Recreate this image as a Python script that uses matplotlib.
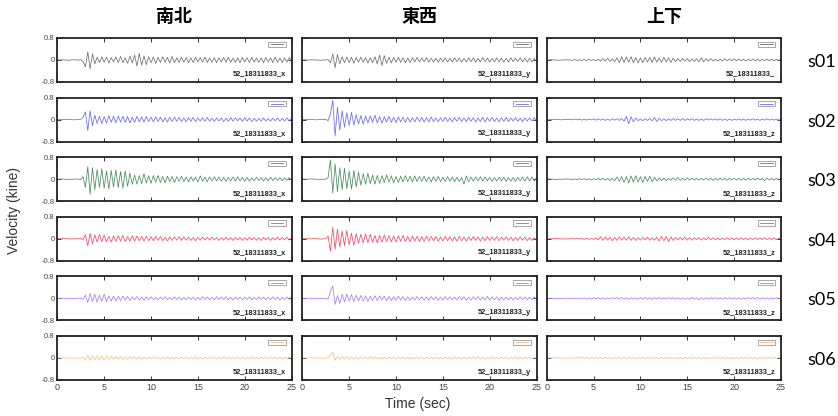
import numpy as np
import matplotlib.pyplot as plt
from matplotlib.patches import Rectangle
from matplotlib.lines import Line2D

# velocity traces in units of 0.01 kine, one value every 0.25 s (0..25 s)
dt = 0.25

ns_s01 = [0,0,1,0,0,-1,0,1,0,0,1,
          -6,-25,30,-32,22,-14,
          10,-9,12,-8,10,-11,9,-7,
          11,-9,13,-10,8,-12,14,-11,
          18,-22,24,-19,15,-17,12,-10,
          11,-13,10,-9,12,-8,10,-11,
          13,-10,8,-9,11,-8,9,-10,
          8,-9,10,-7,9,-8,10,-9,
          7,-8,9,-10,8,-7,9,-8,
          10,-8,7,-9,8,-10,9,-7,
          8,-9,10,-8,7,-9,8,-10,
          9,-7,8,-9,10,-8,7,-9,
          8,-7,9,-6]
ns_s02 = [0,0,0,0,1,0,0,-1,0,0,1,
          8,28,-40,32,-22,16,
          -14,12,-15,11,-13,14,-10,12,
          -11,13,-9,12,-10,11,-12,9,
          -10,12,-8,10,-9,11,-7,9,
          -8,10,-7,9,-8,7,-9,8,
          -7,9,-6,8,-7,6,-8,7,
          -6,8,-7,6,-5,7,-6,8,
          -6,5,-7,6,-5,6,-7,5,
          -6,7,-5,6,-4,5,-6,7,
          -5,6,-7,5,-6,4,-5,6,
          -5,4,-6,5,-4,6,-5,4,
          -5,6,-4,5]
ns_s03 = [0,0,1,0,0,-1,0,0,1,0,-1,
          10,-30,45,-55,42,-38,
          35,-30,38,-33,30,-36,32,-28,
          34,-30,28,-33,30,-26,22,-18,
          15,-18,13,-16,20,-14,12,-15,
          13,-11,14,-12,10,-13,11,-9,
          10,-12,9,-8,11,-9,8,-10,
          9,-7,8,-10,12,-8,7,-9,
          8,-7,9,-6,8,-7,6,-8,
          7,-6,8,-7,9,-6,7,-8,
          6,-7,5,-6,7,-5,6,-7,
          5,-6,7,-5,6,-4,5,-6,
          5,-4,6,-5]
ns_s04 = [0,0,0,1,0,0,-1,0,0,0,1,
          -3,15,-25,20,-18,14,
          -12,16,-10,13,-11,9,-12,10,
          -9,11,-8,12,-10,8,-9,11,
          -8,10,-7,9,-8,10,-7,8,
          -7,9,-6,8,-7,6,-8,7,
          -6,7,-5,8,-6,7,-5,6,
          -6,5,-7,6,-5,6,-4,5,
          -5,6,-4,5,-6,4,-5,6,
          -5,4,-6,5,-4,5,-6,4,
          -5,6,-4,5,-5,4,-6,5,
          -4,5,-6,4,-5,6,-4,5,
          -4,6,-5,4]
ns_s05 = [0,0,1,0,0,0,-1,0,0,1,0,
          -3,12,-15,18,-12,15,
          -14,12,-10,16,-11,9,-10,8,
          -9,7,-8,9,-6,7,-8,6,
          -5,7,-6,5,-7,6,-5,6,
          -5,4,-6,5,-4,6,-5,4,
          -5,6,-4,5,-6,4,-5,5,
          -4,5,-6,4,-5,6,-4,5,
          -5,4,-5,6,-4,5,-4,6,
          -5,4,-6,5,-4,5,-5,4,
          -4,6,-5,4,-5,6,-4,5,
          -5,4,-5,6,-4,5,-6,4,
          -4,5,-4,5]
ns_s06 = [0,0,0,1,0,0,0,-1,0,0,0,
          3,-8,10,-9,8,-7,
          8,-7,6,-8,7,-5,6,-5,
          5,-4,6,-5,4,-5,4,-3,
          4,-3,4,-4,3,-4,3,-3,
          4,-3,3,-4,3,-3,4,-3,
          3,-4,3,-3,4,-3,3,-4,
          3,-3,4,-3,3,-4,3,-3,
          4,-3,3,-4,3,-3,4,-3,
          3,-4,3,-3,4,-3,3,-4,
          3,-3,4,-3,3,-4,3,-3,
          4,-3,3,-3,4,-3,3,-4,
          3,-3,4,-3]

ew_s01 = [0,0,0,0,1,0,0,0,-1,0,0,
          2,-10,22,-28,20,-14,
          12,-10,11,-9,10,-12,9,-8,
          10,-8,9,-11,8,-10,12,-14,
          18,-20,16,-12,10,-11,9,-8,
          10,-9,8,-10,7,-9,8,-7,
          9,-7,8,-6,9,-8,7,-8,
          6,-8,7,-6,8,-7,6,-7,
          8,-6,7,-8,6,-7,8,-6,
          7,-8,6,-7,9,-6,7,-8,
          6,-7,8,-6,7,-8,6,-7,
          8,-6,7,-5,8,-7,6,-8,
          6,-7,5,-6]
ew_s02 = [0,0,0,1,0,0,-1,0,0,0,1,
          -4,20,70,-60,45,-38,
          32,-28,25,-22,26,-20,18,-16,
          15,-17,13,-12,14,-10,16,-12,
          11,-13,10,-9,12,-10,9,-11,
          10,-8,9,-10,8,-9,7,-8,
          9,-7,8,-9,7,-8,9,-7,
          6,-8,7,-6,8,-7,6,-8,
          7,-6,8,-7,6,-7,8,-6,
          7,-8,6,-7,8,-9,7,-6,
          8,-7,6,-8,7,-6,8,-7,
          6,-5,7,-6,5,-7,6,-5,
          6,-5,7,-6]
ew_s03 = [0,0,0,0,1,0,0,-1,0,0,0,
          5,70,-50,55,-45,42,
          -38,40,-35,30,-36,32,-28,25,
          -22,20,-18,22,-16,15,-18,14,
          -15,13,-12,16,-11,12,-14,10,
          -12,11,-10,13,-9,11,-10,12,
          -9,10,-8,11,-9,8,-10,9,
          -8,10,-9,7,-8,9,-7,8,
          -9,7,-8,6,-18,12,-9,8,
          -7,8,-6,9,-7,8,-6,7,
          -8,6,-7,8,-6,7,-8,6,
          -7,6,-8,7,-6,8,-7,9,
          -6,8,-7,6]
ew_s04 = [0,0,0,0,0,1,0,0,-1,0,0,
          10,-45,42,-38,35,-30,
          28,-25,30,-22,20,-24,18,-16,
          17,-15,18,-14,16,-13,12,-15,
          13,-12,14,-10,12,-11,10,-12,
          11,-9,12,-10,9,-11,10,-8,
          9,-10,8,-9,10,-8,9,-7,
          8,-9,7,-8,9,-7,8,-8,
          7,-8,9,-7,6,-8,7,-6,
          8,-6,7,-8,6,-7,8,-6,
          7,-6,8,-7,6,-5,7,-6,
          6,-7,5,-6,7,-5,6,-7,
          5,-6,4,-5]
ew_s05 = [0,0,0,1,0,0,0,-1,0,0,0,
          -3,25,45,-22,10,-18,
          15,-12,16,-10,14,-11,12,-9,
          11,-10,9,-11,8,-9,10,-8,
          9,-7,8,-9,7,-8,6,-7,
          8,-6,7,-8,6,-7,5,-6,
          7,-5,6,-7,5,-6,7,-5,
          6,-7,5,-6,7,-5,6,-6,
          5,-6,7,-5,6,-7,5,-6,
          6,-5,7,-6,5,-6,8,-7,
          6,-5,6,-7,5,-6,5,-6,
          5,-6,4,-5,6,-4,5,-5,
          4,-5,6,-4]
ew_s06 = [0,0,0,0,1,0,0,0,0,-1,0,
          2,12,20,-8,6,-5,
          5,-4,6,-5,4,-5,4,-4,
          4,-3,4,-4,5,-3,4,-3,
          3,-4,3,-3,4,-3,3,-4,
          3,-3,4,-3,3,-4,3,-3,
          4,-3,3,-4,3,-3,4,-3,
          3,-4,3,-3,4,-3,3,-3,
          4,-3,3,-3,4,-4,3,-3,
          3,-3,4,-3,3,-4,3,-3,
          4,-3,3,-3,4,-3,3,-4,
          3,-3,4,-3,3,-3,4,-3,
          3,-3,3,-3]

ud_s01 = [0,0,1,0,0,-1,0,0,1,0,0,
          -1,2,-2,1,-2,2,
          -2,3,-2,2,-3,3,-4,5,
          -4,6,-5,4,-6,8,-10,12,
          -9,11,-8,12,-10,9,-11,8,
          -10,9,-8,10,-9,11,-8,7,
          -9,10,-7,8,-9,7,-6,5,
          -5,6,-4,5,-6,4,-5,4,
          -6,8,-7,5,-4,5,-4,3,
          -4,3,-4,5,-3,4,-3,4,
          -3,4,-3,3,-4,3,-3,4,
          -3,3,-4,3,-3,4,-3,3,
          -3,3,-2,3]
ud_s02 = [0,0,0,1,0,0,-1,0,0,0,1,
          -1,2,-1,2,-2,1,
          -2,2,-1,2,-2,3,-2,2,
          -3,2,-3,3,-2,3,-3,4,
          -6,12,-15,10,-8,6,-4,3,
          -4,3,-3,4,-5,8,-7,5,
          -4,3,-4,3,-3,4,-3,3,
          -3,4,-3,3,-2,3,-3,2,
          -3,2,-3,3,-2,3,-2,3,
          -2,3,-3,2,-3,2,-3,2,
          -2,3,-2,2,-3,2,-2,3,
          -2,2,-3,2,-2,3,-2,2,
          -2,2,-2,2]
ud_s03 = [0,1,0,0,-1,0,0,0,1,0,0,
          -1,1,-2,2,-1,2,
          -2,2,-3,2,-2,3,-3,4,
          -4,3,-5,4,-6,8,-7,10,
          -12,10,-14,12,-10,13,-11,9,
          -12,10,-8,11,-9,7,-6,5,
          -5,4,-5,3,-4,5,-4,6,
          -4,3,-4,5,-3,4,-3,3,
          -4,3,-3,4,-3,3,-4,3,
          -3,4,-3,3,-4,3,-3,4,
          -3,3,-4,3,-3,4,-3,3,
          -3,4,-3,3,-5,4,-3,3,
          -3,3,-3,4]
ud_s04 = [0,0,0,0,1,0,0,-1,0,0,0,
          1,-1,2,-1,1,-2,
          2,-2,1,-2,3,-4,8,-6,
          7,-5,6,-7,5,-6,7,-5,
          6,-5,7,-6,5,-6,4,-5,
          5,-4,6,-5,4,-5,6,-8,
          9,-7,8,-10,7,-6,5,-4,
          5,-4,6,-5,4,-5,4,-3,
          4,-5,3,-4,5,-3,4,-4,
          3,-4,3,-3,4,-3,3,-4,
          3,-3,4,-3,3,-4,3,-3,
          4,-3,3,-3,4,-3,3,-3,
          3,-3,3,-3]
ud_s05 = [0,0,1,0,0,0,-1,0,0,1,0,
          -1,1,-2,2,-2,2,
          -3,2,-3,3,-2,3,-3,2,
          -3,2,-3,3,-2,3,-2,3,
          -3,2,-4,3,-3,2,-3,3,
          -2,3,-3,2,-3,3,-2,3,
          -3,2,-3,3,-2,3,-3,2,
          -3,2,-3,2,-3,3,-2,3,
          -5,3,-3,2,-3,3,-2,3,
          -3,2,-3,3,-2,3,-3,2,
          -3,2,-3,2,-3,3,-2,3,
          -2,3,-3,2,-3,2,-3,2,
          -2,3,-2,2]
ud_s06 = [0,0,0,1,0,0,0,-1,0,0,0,
          1,-1,2,-1,2,-2,
          2,-2,3,-2,2,-2,3,-2,
          2,-2,2,-3,2,-2,2,-2,
          3,-2,2,-2,2,-3,2,-2,
          2,-2,3,-2,2,-2,2,-3,
          2,-2,2,-2,3,-2,2,-2,
          2,-3,2,-2,2,-2,3,-2,
          2,-2,2,-3,2,-2,2,-2,
          3,-2,2,-2,2,-2,2,-3,
          2,-2,3,-2,2,-2,2,-2,
          2,-3,2,-2,2,-2,3,-2,
          2,-2,2,-2]

stations = ["s01", "s02", "s03", "s04", "s05", "s06"]
components = ["南北", "東西", "上下"]
trace_names = ["52_18311833_x", "52_18311833_y", "52_18311833_z"]
traces = [[ns_s01, ew_s01, ud_s01],
          [ns_s02, ew_s02, ud_s02],
          [ns_s03, ew_s03, ud_s03],
          [ns_s04, ew_s04, ud_s04],
          [ns_s05, ew_s05, ud_s05],
          [ns_s06, ew_s06, ud_s06]]
colors = ["#6e6e6e", "#6a6af2", "#4a8c60", "#f24a66", "#ac7af5", "#ffbd7e"]

W, H = 838, 416
fig = plt.figure(figsize=(W / 100, H / 100), dpi=100)

col_left = [57.3, 302.3, 546.7]
col_w = 234.3
row_top = [38, 97.6, 157.2, 216.8, 276.4, 336]
row_h = 44

for r in range(6):
    for c in range(3):
        ax = fig.add_axes([col_left[c] / W, 1 - (row_top[r] + row_h) / H,
                           col_w / W, row_h / H])
        v = np.array(traces[r][c]) / 100.0
        t = np.arange(len(v)) * dt
        ax.plot(t, v, color=colors[r], lw=0.55)
        ax.set_xlim(0, 25)
        ax.set_ylim(-0.8, 0.8)
        ax.set_xticks([0, 5, 10, 15, 20, 25])
        ax.set_yticks([-0.8, 0, 0.8])
        if c == 0:
            ax.set_yticklabels(["-0.8", "0", "0.8"], fontsize=5.5,
                               family="Liberation Sans")
        else:
            ax.set_yticklabels([])
        ax.tick_params(direction="in", top=True, right=True, length=3,
                       width=0.7, pad=2, colors="#333", labelcolor="#444")
        if r == 5:
            ax.set_xticklabels(["0", "5", "10", "15", "20", "25"], fontsize=6.5,
                               family="Liberation Sans")
        else:
            ax.set_xticklabels([])
        for s in ax.spines.values():
            s.set_linewidth(1.3)
            s.set_color("#222")
        # small legend box
        ax.add_patch(Rectangle((0.9, 0.80), 0.075, 0.12, transform=ax.transAxes,
                               fill=False, ec="#999", lw=0.6))
        ax.add_line(Line2D([0.91, 0.965], [0.86, 0.86], transform=ax.transAxes,
                           color=colors[r], lw=0.6))
        name = trace_names[c]
        if r == 0 and c == 2:
            name = "52_18311833_"
        ax.text(0.975, 0.1, name, transform=ax.transAxes, ha="right", va="bottom",
                fontsize=5.3, fontweight="bold", family="Liberation Sans",
                color="#222")

for c in range(3):
    fig.text((col_left[c] + col_w / 2) / W, 1 - 17 / H, components[c],
             ha="center", va="center", fontsize=13, fontweight="bold",
             family=["Noto Sans CJK JP", "DejaVu Sans"])

for r in range(6):
    fig.text(822 / W, 1 - (row_top[r] + row_h / 2 + 2) / H, stations[r],
             ha="center", va="center", fontsize=13, family="Lato")

fig.text(14 / W, 1 - 210 / H, "Velocity (kine)", rotation=90, ha="center",
         va="center", fontsize=10, family="Liberation Sans", color="#333")
fig.text(418 / W, 1 - 404 / H, "Time (sec)", ha="center", va="center",
         fontsize=10, family="Liberation Sans", color="#333")

fig.savefig("out.png", dpi=100)
